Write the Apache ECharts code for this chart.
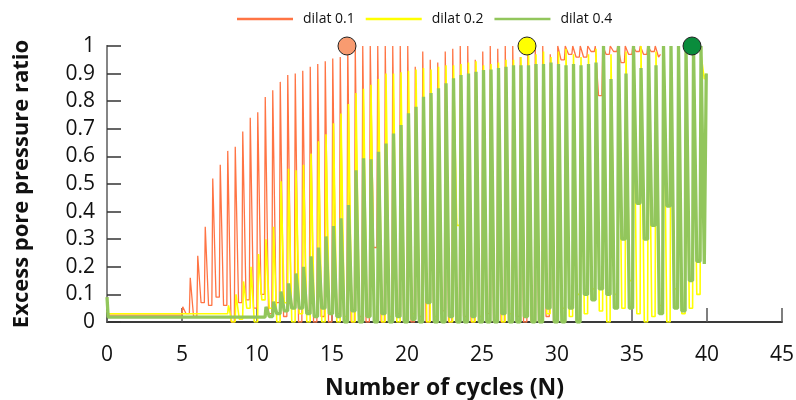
<!DOCTYPE html>
<html><head><meta charset="utf-8">
<script src="https://cdn.jsdelivr.net/npm/echarts@6/dist/echarts.min.js"></script>
<style>html,body{margin:0;padding:0;background:#fff}#c{width:796px;height:400px}</style>
</head><body><div id="c"></div><script>
// ---- data ----
const seriesNames = ['dilat 0.1', 'dilat 0.2', 'dilat 0.4'];

// value at N=0, resting value before oscillation, N of first peak, half-cycle spacing
const orangeInit = 0.09, orangeBase = 0.025, orangeStart = 5.05;
const yellowInit = 0.04, yellowBase = 0.03, yellowStart = 8.1;
const greenInit = 0.09, greenBase = 0.018, greenStart = 10.6;
const halfCycle = 0.5;

const orangePeaks = [0.055,0.16,0.24,0.345,0.52,0.57,0.62,0.635,0.69,0.74,0.76,0.815,0.84,0.87,0.895,0.90,
  0.91,0.925,0.935,0.945,0.955,0.96,1.0,1.0,1.0,1.0,1.0,1.0,1.0,1.0,1.0,0.925,
  0.98,0.95,0.94,0.98,0.99,1.0,1.0,0.95,0.98,1.0,0.99,1.0,1.0,0.96,1.0,1.0,
  1.0,0.97,1.0,1.0,1.0,1.0,1.0,1.0,1.0,1.0,1.0,1.0,1.0,1.0,1.0,1.0];
const orangeTroughs = [0.03,0.02,0.07,0.06,0.09,0.06,0.0,0.07,0.08,0.05,0.1,0.03,0.07,0.02,0.05,0.0,
  0.04,0.0,0.02,0.0,0.03,0.0,0.0,0.02,0.0,0.27,0.0,0.0,0.03,0.0,0.0,0.02,
  0.0,0.0,0.04,0.0,0.0,0.02,0.0,0.0,0.03,0.0,0.0,0.0,0.02,0.0,0.0,0.0,
  0.02,0.0,0.95,0.97,0.96,0.96,0.98,0.82,0.97,0.98,0.94,0.97,0.98,0.97,0.98,0.96];
const orangeEnd = 0.97;

const yellowPeaks = [0.06,0.10,0.147,0.20,0.246,0.30,0.345,0.51,0.555,0.55,0.57,0.61,0.655,0.68,0.72,0.755,
  0.79,0.83,0.845,0.86,0.88,0.90,0.90,0.905,0.91,0.915,0.92,0.915,0.925,0.93,0.93,0.935,
  0.94,0.945,0.93,0.935,0.94,0.95,0.95,0.96,1.0,0.97,0.98,0.96,0.98,0.99,0.97,0.96,
  0.97,0.99,1.0,0.97,1.0,0.98,0.97,1.0,0.99,0.98,1.0,0.97,1.0,0.99,0.99,0.97];
const yellowTroughs = [0.0,0.01,0.05,0.0,0.08,0.05,0.0,0.07,0.0,0.03,0.0,0.02,0.0,0.03,0.0,0.02,
  0.0,0.0,0.03,0.0,0.0,0.02,0.0,0.0,0.03,0.0,0.0,0.02,0.0,0.0,0.35,0.0,
  0.0,0.02,0.0,0.0,0.0,0.03,0.0,0.02,0.0,0.0,0.03,0.0,0.05,0.02,0.1,0.03,
  0.12,0.04,0.0,0.1,0.05,0.15,0.03,0.0,0.02,0.06,0.0,0.12,0.03,0.05,0.1,0.88];
const yellowEnd = 0.9;

const greenPeaks = [0.055,0.074,0.11,0.14,0.176,0.20,0.238,0.27,0.31,0.348,0.376,0.424,0.55,0.593,0.59,0.617,
  0.647,0.683,0.714,0.756,0.78,0.816,0.83,0.847,0.865,0.883,0.895,0.90,0.907,0.913,0.915,0.92,
  0.925,0.93,0.93,0.93,0.935,0.935,0.94,0.935,0.93,0.935,0.93,0.935,0.94,1.0,0.88,1.0,
  0.90,1.0,0.92,1.0,0.93,1.0,1.0,1.0,1.0,1.0,1.0];
const greenTroughs = [0.02,0.03,0.04,0.05,0.05,0.03,0.02,0.05,0.03,0.02,0.0,0.04,0.0,0.02,0.0,0.03,
  0.0,0.02,0.0,0.01,0.0,0.07,0.0,0.0,0.02,0.0,0.0,0.02,0.0,0.0,0.0,0.03,
  0.0,0.0,0.02,0.0,0.0,0.05,0.0,0.0,0.05,0.0,0.1,0.08,0.12,0.1,0.05,0.3,
  0.05,0.43,0.3,0.35,0.03,0.42,0.05,0.04,0.15,0.22,0.21];
const greenEnd = 0.9;

// markers of initial liquefaction
const markerN = [16, 28, 39];
const markerRu = [1, 1, 1];
const markerColors = ['#F89B70', '#FFFF00', '#0A8C3C'];

// ---- build line data (per half-cycle: rise, flat top, fall to trough) ----
function build(init, base, start, peaks, troughs, endVal) {
  const pts = [[0, init], [0.08, base]];
  let prev = base, last = 0;
  peaks.forEach((p, k) => {
    const tp = start + halfCycle * k;
    pts.push([tp - 0.06, prev]);
    pts.push([tp, p]);
    pts.push([tp + 0.1, p]);
    pts.push([tp + 0.22, troughs[k]]);
    prev = troughs[k];
    last = tp;
  });
  pts.push([last + 0.35, endVal]);
  return pts;
}

const orangeData = build(orangeInit, orangeBase, orangeStart, orangePeaks, orangeTroughs, orangeEnd);
const yellowData = build(yellowInit, yellowBase, yellowStart, yellowPeaks, yellowTroughs, yellowEnd);
const greenData = build(greenInit, greenBase, greenStart, greenPeaks, greenTroughs, greenEnd);

const chart = echarts.init(document.getElementById('c'), null, {renderer: 'canvas'});
const font = 'Open Sans';
chart.setOption({
  animation: false,
  backgroundColor: '#fff',
  legend: {
    data: seriesNames, left: 232, top: 7, itemWidth: 56, itemHeight: 2.5, itemGap: 11, icon: 'rect',
    textStyle: {fontFamily: font, fontSize: 14, color: '#111', padding: [0, 0, 0, 5]}
  },
  grid: {left: 107, right: 14, top: 46, bottom: 78, show: false, containLabel: false, outerBoundsMode: 'none'},
  xAxis: [{
    type: 'value', min: 0, max: 45, interval: 5,
    name: 'Number of cycles (N)', nameLocation: 'middle', nameGap: 55,
    nameTextStyle: {fontFamily: font, fontSize: 23, fontWeight: 'bold', color: '#111'},
    axisLine: {show: true, onZero: false, lineStyle: {color: '#858585', width: 2}},
    axisTick: {show: true, inside: true, length: 14, lineStyle: {color: '#555', width: 1.5}},
    axisLabel: {fontFamily: font, fontSize: 21, color: '#111', margin: 23},
    splitLine: {show: false}
  }, {
    type: 'value', position: 'top', min: 0, max: 45,
    axisLine: {show: true, lineStyle: {color: '#222', width: 1.5}},
    axisTick: {show: false}, axisLabel: {show: false}, splitLine: {show: false}
  }],
  yAxis: [{
    type: 'value', min: 0, max: 1, interval: 0.1,
    name: 'Excess pore pressure ratio', nameLocation: 'middle', nameGap: 74,
    nameTextStyle: {fontFamily: font, fontSize: 22, fontWeight: 'bold', color: '#111'},
    axisLine: {show: true, onZero: false, lineStyle: {color: '#858585', width: 2}},
    axisTick: {show: true, inside: true, length: 14, lineStyle: {color: '#333', width: 1.5}},
    axisLabel: {fontFamily: font, fontSize: 21, color: '#111', margin: 12},
    splitLine: {show: false}
  }, {
    type: 'value', position: 'right', min: 0, max: 1,
    axisLine: {show: true, lineStyle: {color: '#858585', width: 2}},
    axisTick: {show: false}, axisLabel: {show: false}, splitLine: {show: false}
  }],
  series: [
    {name: seriesNames[0], type: 'line', data: orangeData, symbol: 'none', showSymbol: false,
     color: '#FF7444', lineStyle: {width: 1.3, color: '#FF7444'}, z: 2},
    {name: seriesNames[1], type: 'line', data: yellowData, symbol: 'none', showSymbol: false,
     color: '#FFFF00', lineStyle: {width: 1.6, color: '#FFFF00'}, z: 3},
    {name: seriesNames[2], type: 'line', data: greenData, symbol: 'none', showSymbol: false,
     color: '#92C65C', lineStyle: {width: 3.3, color: '#92C65C'}, z: 4},
    {name: 'markers', type: 'scatter', clip: false, z: 10, symbolSize: 18,
     data: markerN.map((n, i) => ({value: [n, markerRu[i]], itemStyle: {color: markerColors[i], opacity: 1, borderColor: '#222', borderWidth: 1}}))}
  ]
});
</script></body></html>
